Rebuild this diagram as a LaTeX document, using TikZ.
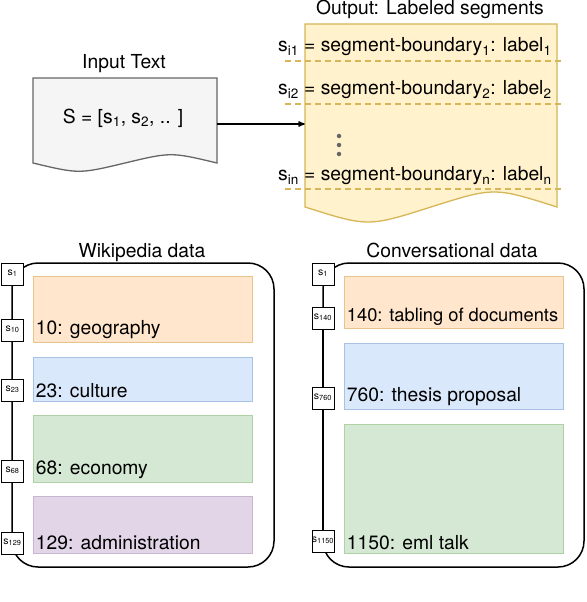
\documentclass[tikz,border=0pt]{standalone}
\usepackage{fontspec}
\setmainfont{TeX Gyre Heros}
\usetikzlibrary{arrows,positioning}
\definecolor{docfill}{HTML}{F5F5F5}
\definecolor{docdraw}{HTML}{666666}
\definecolor{outfill}{HTML}{FFF2CC}
\definecolor{outdraw}{HTML}{D6B656}
\definecolor{geofill}{HTML}{FFE6CC}
\definecolor{geodraw}{HTML}{E8C48C}
\definecolor{culfill}{HTML}{DAE8FC}
\definecolor{culdraw}{HTML}{A9C1E2}
\definecolor{ecofill}{HTML}{D5E8D4}
\definecolor{ecodraw}{HTML}{B0D1A6}
\definecolor{admfill}{HTML}{E1D5E7}
\definecolor{admdraw}{HTML}{C7B6CF}
\newcommand{\bigfont}{\fontsize{19.3}{22}\selectfont}
\newcommand{\markfont}{\fontsize{10.5}{11}\selectfont}
\newcommand{\sent}[1]{\raisebox{3pt}{s\textsubscript{#1}}}
\tikzstyle{title}=[
	font=\bigfont,
	inner sep=0pt
]
\tikzstyle{docbox}=[
	rectangle,
	inner sep=0pt
]
\tikzstyle{segment}=[
	rectangle,
	minimum width=219pt,
	inner sep=0pt,
	line width=0.5pt
]
\tikzstyle{seglabel}=[
	font=\bigfont,
	inner sep=0pt,
	anchor=south west
]
\tikzstyle{marker}=[
	rectangle,
	draw,
	fill=white,
	minimum size=22pt,
	inner sep=0pt,
	line width=0.9pt,
	font=\markfont
]
\tikzstyle{corpus}=[
	rectangle,
	draw,
	line width=1.5pt,
	rounded corners=26pt
]
\tikzstyle{flow}=[
	->,
	>=stealth',
	line width=1.3pt
]
\tikzstyle{boundary}=[
	draw=outdraw,
	dash pattern=on 6pt off 4pt,
	line width=1.2pt
]
\tikzstyle{dot}=[
	circle,
	fill=docdraw,
	minimum size=4.5pt,
	inner sep=0pt
]

\begin{document}
\begin{tikzpicture}[x=1pt,y=-1pt]
\useasboundingbox (0,0) rectangle (586,602);
% input document
\draw[draw=docdraw, fill=docfill, line width=1.3pt] (33,78) -- (217,78) -- (217,163)
	.. controls (171,152) .. (125,163) .. controls (79,174) .. (33,163) -- cycle;
\node [docbox, minimum width=184pt, minimum height=85pt] (inputdoc) at (125,120.5) {};
\node [title] (inputseq) at (123,118) {S = [s\textsubscript{1}, s\textsubscript{2}, .. ]};
\node [title, anchor=base] (inputtitle) at (124,69) {Input Text};
% output document
\draw[draw=outdraw, fill=outfill, line width=1.3pt] (305,24) -- (557,24) -- (557,207)
	.. controls (494,187) .. (431,207) .. controls (368,227) .. (305,207) -- cycle;
\node [docbox, minimum width=252pt, minimum height=183pt] (outputdoc) at (431,115.5) {};
\node [title, anchor=base] (outputtitle) at (430,14.5) {Output: Labeled segments};
\draw[boundary] (285,61) -- (565,61);
\draw[boundary] (285,104) -- (565,104);
\draw[boundary] (285,189) -- (565,189);
\node [title, anchor=west] (line1) at (278,47) {s\textsubscript{i1} = segment-boundary\textsubscript{1}: label\textsubscript{1}};
\node [title, anchor=west] (line2) at (278,90) {s\textsubscript{i2} = segment-boundary\textsubscript{2}: label\textsubscript{2}};
\node [title, anchor=west] (linen) at (278,176) {s\textsubscript{in} = segment-boundary\textsubscript{n}: label\textsubscript{n}};
\foreach \y/\n in {136/1,145/2,154/3}
	\node [dot] (dot\n) at (339,\y) {};
\coordinate (arrowstart) at ([yshift=-3.5pt]inputdoc.east);
\draw[flow] (arrowstart) -- (arrowstart -| outputdoc.west);
% wikipedia data
\node [corpus, minimum width=262pt, minimum height=304pt] (wiki) at (143,415) {};
\node [title, anchor=base] (wikititle) at (142,257.5) {Wikipedia data};
\node [segment, fill=geofill, draw=geodraw, minimum height=66pt] (geo) at (142.5,309) {};
\node [segment, fill=culfill, draw=culdraw, minimum height=44pt] (cul) at (142.5,379) {};
\node [segment, fill=ecofill, draw=ecodraw, minimum height=67pt] (eco) at (142.5,448.5) {};
\node [segment, fill=admfill, draw=admdraw, minimum height=57pt] (adm) at (142.5,524.5) {};
\node [seglabel] (geotext) at ([xshift=3pt,yshift=3pt]geo.south west) {10: geography};
\node [seglabel] (cultext) at ([xshift=3pt,yshift=3pt]cul.south west) {23: culture};
\node [seglabel] (ecotext) at ([xshift=3pt,yshift=3pt]eco.south west) {68: economy};
\node [seglabel] (admtext) at ([xshift=3pt,yshift=3pt]adm.south west) {129: administration};
\node [marker] (w1) at (12.5,274) {\sent{1}};
\node [marker] (w10) at (12.5,330) {\sent{10}};
\node [marker] (w23) at (12.5,390) {\sent{23}};
\node [marker] (w68) at (12.5,471) {\sent{68}};
\node [marker] (w129) at (12.5,543) {\sent{129}};
\draw[line width=1.5pt] (w10) -- (w23) -- (w68) -- (w129);
% conversational data
\node [corpus, minimum width=261pt, minimum height=304pt] (conv) at (453.5,415) {};
\node [title, anchor=base] (convtitle) at (452,257.5) {Conversational data};
\node [segment, fill=geofill, draw=geodraw, minimum height=52pt] (tab) at (453.5,302) {};
\node [segment, fill=culfill, draw=culdraw, minimum height=66pt] (the) at (453.5,376) {};
\node [segment, fill=ecofill, draw=ecodraw, minimum height=129pt] (eml) at (453.5,488.5) {};
\node [seglabel, font=\fontsize{18.3}{22}\selectfont] (tabtext) at ([xshift=3pt,yshift=3pt]tab.south west) {140: tabling of documents};
\node [seglabel] (thetext) at ([xshift=3pt,yshift=3pt]the.south west) {760: thesis proposal};
\node [seglabel] (emltext) at ([xshift=3pt,yshift=3pt]eml.south west) {1150: eml talk};
\node [marker] (c1) at (323,274) {\sent{1}};
\node [marker] (c140) at (323,318) {\sent{140}};
\node [marker] (c760) at (323,398) {\sent{760}};
\node [marker] (c1150) at (323,541) {\sent{1150}};
\draw[line width=1.5pt] (c140) -- (c760) -- (c1150);
\end{tikzpicture}
\end{document}
